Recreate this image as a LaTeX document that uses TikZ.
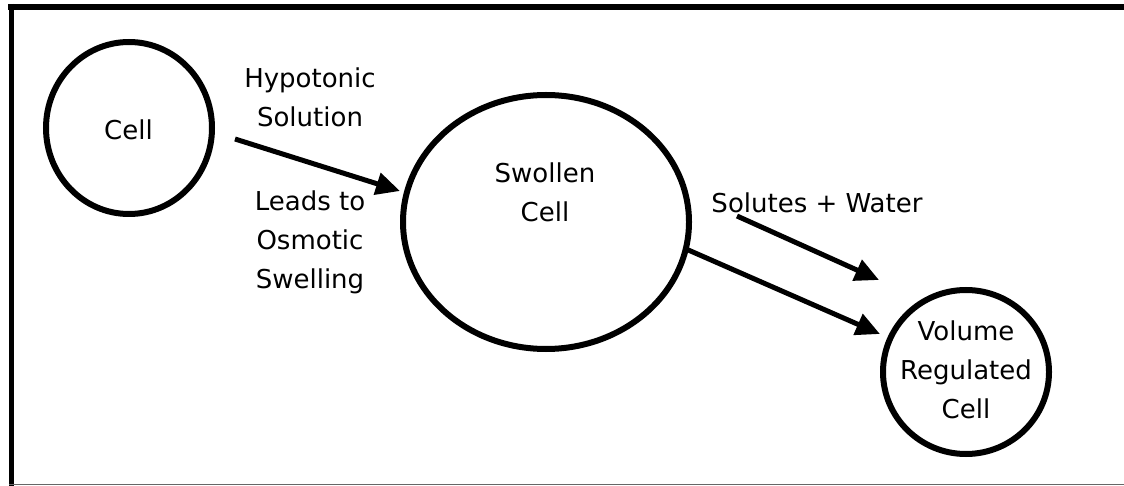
\documentclass[tikz,border=0pt]{standalone}
\usepackage{fontspec}
\setmainfont{DejaVu Sans}
\usetikzlibrary{arrows.meta}
\begin{document}
\begin{tikzpicture}[x=1pt,y=-1pt,
  ring/.style={draw,line width=6pt},
  lbl/.style={align=center,font=\fontsize{26}{39}\selectfont,inner sep=0pt},
  arr/.style={line width=5pt,-{Triangle[length=24pt,width=22pt]}},
]
\useasboundingbox (0,0) rectangle (1124,486);
\fill[white] (0,0) rectangle (1124,486);
% frame
\draw[line width=6pt] (8,7) -- (1124,7);
\draw[line width=5pt] (11,4) -- (11,486);
\draw[line width=1.5pt,black!60] (9,484.5) -- (1124,484.5);
% cells
\draw[ring] (129,128) ellipse [x radius=83, y radius=86];
\node[lbl] (cell) at (128.5,130) {Cell};
\draw[ring] (546,222) ellipse [x radius=143, y radius=127];
\node[lbl] (swollen) at (545,192) {Swollen\\Cell};
\draw[ring] (966,372) ellipse [x radius=83, y radius=82];
\node[lbl] (vrc) at (966,370) {Volume\\Regulated\\Cell};
% labels
\node[lbl] (hypo) at (310,97.5) {Hypotonic\\Solution};
\node[lbl] (leads) at (310,242) {Leads to\\Osmotic\\Swelling};
\node[lbl] (sw) at (817,203) {Solutes + Water};
% arrows
\coordinate (a1s) at (235,139);
\coordinate (a1e) at (400,191);
\coordinate (a2s) at (737,216);
\coordinate (a2e) at (879,280);
\coordinate (a3s) at (686,249);
\coordinate (a3e) at (880,334);
\draw[arr] (a1s) -- (a1e);
\draw[arr] (a2s) -- (a2e);
\draw[arr] (a3s) -- (a3e);
\end{tikzpicture}
\end{document}
